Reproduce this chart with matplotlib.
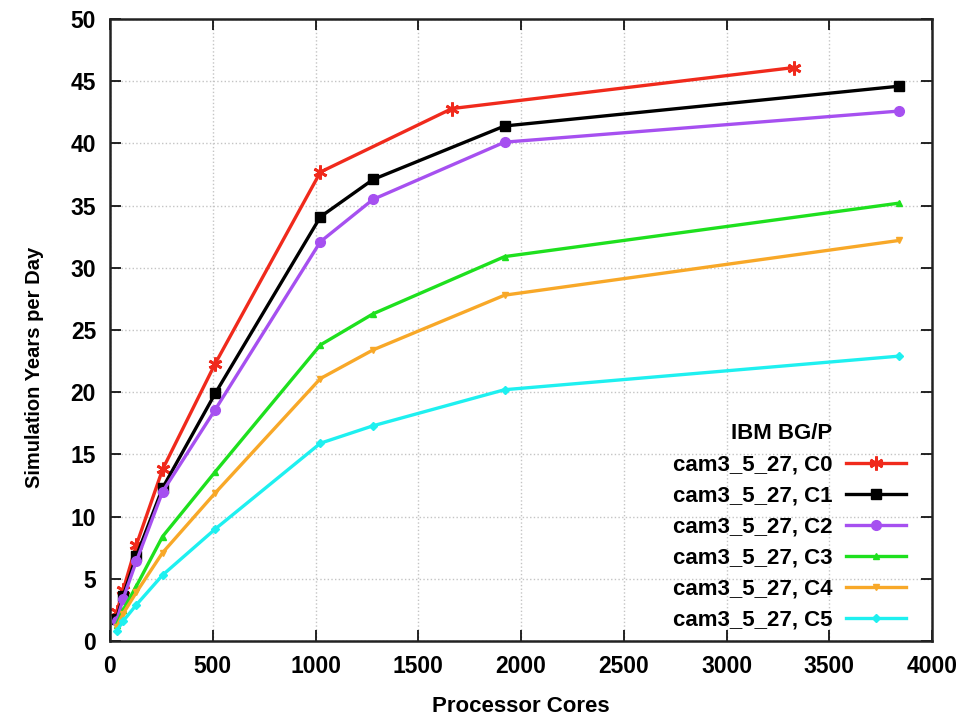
import matplotlib
matplotlib.use('Agg')
import matplotlib.pyplot as plt

# values (simulation years per day on IBM BG/P)
cores_c0 = [32, 64, 128, 256, 512, 1024, 1664, 3328]
sypd_c0 = [2.3, 4.1, 7.7, 13.8, 22.3, 37.7, 42.8, 46.1]

cores = [32, 64, 128, 256, 512, 1024, 1280, 1920, 3840]
sypd_c1 = [1.8, 3.6, 6.8, 12.3, 19.9, 34.1, 37.1, 41.4, 44.6]
sypd_c2 = [1.6, 3.4, 6.4, 12.0, 18.6, 32.1, 35.5, 40.1, 42.6]
sypd_c3 = [1.3, 2.5, 4.4, 8.4, 13.6, 23.8, 26.3, 30.9, 35.2]
sypd_c4 = [1.1, 2.2, 3.9, 7.1, 11.9, 21.1, 23.4, 27.8, 32.2]
sypd_c5 = [0.8, 1.6, 2.9, 5.3, 9.0, 15.9, 17.3, 20.2, 22.9]

labels = ['cam3_5_27, C0', 'cam3_5_27, C1', 'cam3_5_27, C2',
          'cam3_5_27, C3', 'cam3_5_27, C4', 'cam3_5_27, C5']
legend_title = 'IBM BG/P'

FONT = ['Liberation Sans', 'DejaVu Sans']

fig = plt.figure(figsize=(9.75, 7.17), dpi=100)
ax = fig.add_axes([0.1128, 0.106, 0.8432, 0.8675])

series = [
    (cores_c0, sypd_c0, '#f02a1c', (6, 2, 0), 10),
    (cores, sypd_c1, '#000000', 's', 7),
    (cores, sypd_c2, '#a650f0', 'o', 7),
    (cores, sypd_c3, '#1ee01e', '^', 5),
    (cores, sypd_c4, '#f8a828', 'v', 5),
    (cores, sypd_c5, '#1ef0f0', 'D', 4),
]
for (xs, ys, col, mk, ms), lab in zip(series, labels):
    ax.plot(xs, ys, color=col, lw=2.4, marker=mk, ms=ms, mew=2 if mk == (6, 2, 0) else 1,
            mec=col, mfc=col, label=lab)

ax.set_xlim(0, 4000)
ax.set_ylim(0, 50)
ax.set_xticks(range(0, 4001, 500))
ax.set_yticks(range(0, 51, 5))
ax.grid(True, ls=':', color='#c4c4c4', lw=1)
ax.set_axisbelow(True)

ax.tick_params(direction='in', length=8, width=1.2, top=True, right=True, pad=10)
for lab in ax.get_xticklabels() + ax.get_yticklabels():
    lab.set_family(FONT)
    lab.set_fontweight('bold')
    lab.set_fontsize(16.5)
for sp in ax.spines.values():
    sp.set_linewidth(1.8)
    sp.set_color('#222222')

ax.set_xlabel('Processor Cores', family=FONT, fontweight='bold', fontsize=16)
ax.set_ylabel('Simulation Years per Day', family=FONT, fontweight='bold', fontsize=14.5)
ax.xaxis.set_label_coords(0.5, -0.088)
ax.yaxis.set_label_coords(-0.08, 0.44)

leg = ax.legend(loc='lower right', bbox_to_anchor=(0.968, 0.017), frameon=False,
                markerfirst=False, handlelength=2.7, handletextpad=0.6,
                labelspacing=0.45, borderpad=0, borderaxespad=0,
                prop={'family': FONT, 'weight': 'bold', 'size': 16})
ax.text(0.878, 0.333, legend_title, transform=ax.transAxes, ha='right', va='center',
        family=FONT, fontweight='bold', fontsize=16)

fig.savefig('out.png', dpi=100)
